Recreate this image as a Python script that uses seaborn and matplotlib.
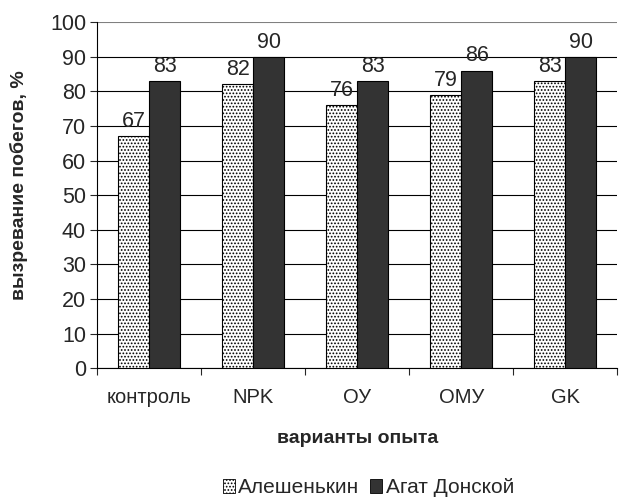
import pandas as pd
import matplotlib
matplotlib.use('Agg')
import matplotlib.pyplot as plt
from matplotlib.patches import Patch
import seaborn as sns

categories = ['контроль', 'NPK', 'ОУ', 'ОМУ', 'GK']
series_names = ['Алешенькин', 'Агат Донской']
aleshenkin = [67, 82, 76, 79, 83]
agat = [83, 90, 83, 86, 90]

df = pd.DataFrame({
    'вариант': categories * 2,
    'сорт': [series_names[0]] * 5 + [series_names[1]] * 5,
    'значение': aleshenkin + agat,
})

sns.set_style('white')
plt.rcParams['font.family'] = ['Liberation Sans', 'DejaVu Sans']
plt.rcParams['hatch.color'] = '#888888'
plt.rcParams['hatch.linewidth'] = 0.8

fig = plt.figure(figsize=(6.19, 5.03), dpi=100)
ax = fig.add_axes([0.157, 0.268, 0.84, 0.688])

colors = ['white', '#333333']
sns.barplot(data=df, x='вариант', y='значение', hue='сорт', hue_order=series_names,
            palette=colors, width=0.6, edgecolor='black', linewidth=0.8,
            legend=False, ax=ax, zorder=3)

for cont, hatch in zip(ax.containers, ['.....', None]):
    for p in cont:
        if hatch:
            p.set_hatch(hatch)
    ax.bar_label(cont, fontsize=15.5, padding=3)

ax.set_ylim(0, 100)
ax.set_yticks(range(0, 101, 10))
ax.set_xlim(-0.5, 4.5)
ax.yaxis.grid(True, color='black', linewidth=0.8, zorder=0)
ax.get_ygridlines()[-1].set_color('#808080')
ax.set_axisbelow(True)
for s in ['top', 'right']:
    ax.spines[s].set_visible(False)
ax.spines['left'].set_color('black')
ax.spines['bottom'].set_color('black')
ax.spines['left'].set_linewidth(0.8)
ax.spines['bottom'].set_linewidth(0.8)

ax.tick_params(axis='y', which='major', left=True, length=5, width=0.8, labelsize=15.5, pad=3)
ax.tick_params(axis='x', which='major', bottom=False, labelsize=14.5, pad=11)
ax.set_xticks([i + 0.5 for i in range(-1, 5)], minor=True)
ax.tick_params(axis='x', which='minor', bottom=True, length=5, width=0.8)

ax.set_xlabel('варианты опыта', fontsize=14, fontweight='bold', labelpad=16)
ax.set_ylabel('вызревание побегов, %', fontsize=14, fontweight='bold')
ax.yaxis.set_label_coords(-0.133, 0.53)

handles = [Patch(facecolor='white', edgecolor='black', hatch='.....', linewidth=0.6),
           Patch(facecolor='#333333', edgecolor='black', linewidth=0.6)]
fig.legend(handles, series_names, loc='center', bbox_to_anchor=(0.595, 0.03),
           ncol=2, frameon=False, fontsize=15, handlelength=0.6, handleheight=0.6,
           handletextpad=0.15, columnspacing=0.5, borderpad=0.1)

fig.savefig('out.png', dpi=100)
